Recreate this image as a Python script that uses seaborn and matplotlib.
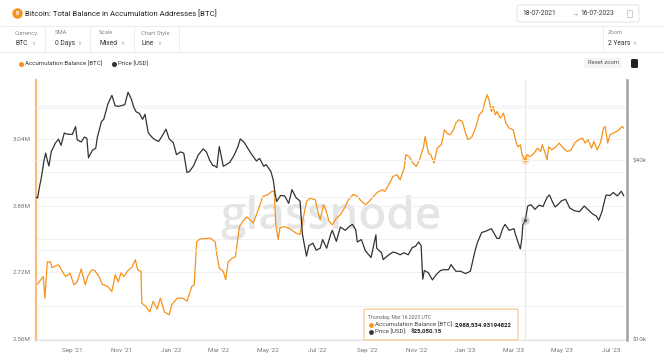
import numpy as np
import pandas as pd
import matplotlib
matplotlib.use("Agg")
import matplotlib.pyplot as plt
import matplotlib.dates as mdates
from matplotlib.patches import FancyBboxPatch, Rectangle
from matplotlib.lines import Line2D
from matplotlib.ticker import NullLocator
import seaborn as sns

start = pd.Timestamp("2021-07-18")

# accumulation balance, days since 18-07-2021 -> millions of BTC
acc_day = [2, 9, 11, 14, 18, 20, 24, 28, 35, 37,
           42, 47, 51, 56, 61, 64, 69, 73, 78, 82,
           89, 94, 98, 102, 105, 109, 113, 119, 123, 126,
           130, 131, 136, 141, 145, 150, 154, 159, 165, 168,
           175, 182, 187, 193, 196, 199, 203, 216, 222, 224,
           227, 232, 235, 238, 243, 247, 249, 252, 256, 261,
           265, 269, 273, 276, 281, 287, 292, 295, 297, 300,
           302, 307, 315, 322, 327, 331, 335, 339, 346, 349,
           352, 356, 359, 363, 367, 372, 377, 382, 387, 393,
           398, 404, 408, 413, 418, 423, 429, 432, 437, 442,
           447, 451, 456, 458, 462, 467, 471, 475, 480, 482,
           486, 489, 493, 497, 502, 506, 509, 513, 517, 520,
           524, 528, 532, 535, 540, 545, 549, 553, 556, 559,
           561, 564, 566, 569, 571, 575, 579, 582, 586, 591,
           595, 597, 600, 602, 606, 608, 612, 617, 621, 625,
           627, 630, 633, 635, 639, 644, 648, 653, 658, 663,
           667, 672, 677, 680, 684, 688, 691, 695, 699, 703,
           705, 708, 711, 715, 719, 722, 726, 728]
acc_btc_m = [2.692, 2.710, 2.658, 2.745, 2.745, 2.731, 2.735, 2.738, 2.714, 2.710,
             2.718, 2.690, 2.697, 2.728, 2.690, 2.710, 2.726, 2.724, 2.710, 2.691,
             2.686, 2.674, 2.714, 2.697, 2.718, 2.710, 2.722, 2.733, 2.750, 2.726,
             2.722, 2.646, 2.638, 2.625, 2.650, 2.632, 2.658, 2.625, 2.618, 2.642,
             2.658, 2.658, 2.651, 2.686, 2.690, 2.793, 2.800, 2.802, 2.793, 2.762,
             2.730, 2.722, 2.702, 2.745, 2.754, 2.757, 2.786, 2.830, 2.842, 2.853,
             2.846, 2.838, 2.858, 2.874, 2.902, 2.906, 2.914, 2.915, 2.834, 2.798,
             2.826, 2.830, 2.824, 2.814, 2.811, 2.850, 2.889, 2.898, 2.894, 2.866,
             2.846, 2.882, 2.870, 2.842, 2.834, 2.850, 2.858, 2.874, 2.894, 2.907,
             2.902, 2.889, 2.882, 2.891, 2.902, 2.912, 2.918, 2.914, 2.930, 2.950,
             2.954, 2.942, 2.970, 3.002, 2.998, 2.982, 2.974, 2.990, 3.021, 3.046,
             3.006, 3.002, 2.982, 3.018, 3.026, 3.062, 3.054, 3.050, 3.062, 3.078,
             3.086, 3.082, 3.054, 3.038, 3.045, 3.070, 3.098, 3.106, 3.130, 3.146,
             3.134, 3.106, 3.118, 3.098, 3.106, 3.090, 3.102, 3.078, 3.066, 3.062,
             3.030, 3.021, 3.026, 3.002, 2.9885, 3.002, 2.998, 3.006, 3.018, 3.010,
             3.026, 3.010, 2.990, 3.021, 3.014, 3.021, 3.030, 3.018, 3.010, 3.014,
             3.030, 3.038, 3.042, 3.030, 3.038, 3.018, 3.034, 3.014, 3.030, 3.066,
             3.070, 3.030, 3.050, 3.054, 3.058, 3.062, 3.070, 3.066]

# BTC price, days since 18-07-2021 -> thousands of USD
price_day = [0, 2, 4, 7, 10, 12, 14, 16, 19, 21,
             24, 28, 31, 35, 38, 42, 45, 49, 51, 56,
             60, 63, 65, 70, 74, 76, 81, 84, 89, 94,
             98, 102, 106, 110, 114, 118, 121, 124, 128, 132,
             135, 139, 144, 148, 152, 157, 161, 165, 170, 174,
             179, 183, 187, 190, 195, 201, 207, 211, 215, 219,
             221, 224, 227, 232, 237, 240, 245, 250, 253, 258,
             263, 266, 269, 273, 277, 282, 285, 291, 294, 296,
             298, 303, 308, 313, 317, 322, 327, 330, 335, 338,
             343, 347, 352, 355, 360, 365, 367, 372, 377, 383,
             388, 392, 396, 398, 403, 408, 415, 421, 422, 428,
             430, 436, 442, 446, 451, 456, 461, 466, 470, 474,
             477, 479, 481, 486, 491, 496, 501, 505, 511, 514,
             520, 526, 532, 538, 544, 547, 552, 558, 564, 571,
             574, 578, 581, 586, 592, 594, 599, 600, 602, 603,
             606, 609, 613, 618, 623, 628, 633, 636, 640, 643,
             647, 651, 656, 661, 667, 673, 679, 684, 689, 694,
             697, 701, 703, 706, 711, 715, 720, 725, 728]
price_usd_k = [30.0, 29.8, 32.1, 35.4, 40.0, 42.2, 39.9, 38.2, 42.8, 43.8,
               45.6, 47.0, 44.8, 49.3, 48.9, 48.8, 48.8, 51.8, 46.8, 46.0,
               47.8, 47.3, 40.7, 43.2, 43.8, 47.7, 53.8, 54.9, 61.7, 66.0,
               60.9, 60.6, 61.0, 61.4, 67.6, 64.2, 60.3, 58.1, 57.4, 54.8,
               57.0, 49.4, 47.6, 46.7, 46.2, 48.6, 50.8, 47.1, 45.8, 41.7,
               42.6, 42.2, 36.3, 36.6, 38.2, 41.6, 43.6, 42.6, 40.0, 38.3,
               38.3, 37.7, 44.4, 38.1, 38.8, 39.3, 41.3, 44.3, 47.1, 45.8,
               43.5, 42.2, 41.1, 39.7, 40.5, 38.1, 38.6, 36.6, 34.1, 31.0,
               29.0, 30.4, 30.3, 28.6, 31.8, 29.9, 29.1, 22.5, 19.0, 20.6,
               21.0, 19.9, 20.2, 21.6, 20.2, 22.5, 23.2, 21.3, 23.8, 23.2,
               23.9, 24.3, 23.3, 21.2, 21.6, 19.8, 18.8, 22.4, 20.2, 19.5,
               18.5, 19.1, 19.6, 19.5, 19.2, 19.5, 19.2, 20.3, 20.5, 21.2,
               20.6, 15.9, 17.0, 16.7, 15.8, 16.5, 17.0, 17.1, 17.1, 17.8,
               16.9, 16.9, 16.6, 16.9, 19.9, 21.2, 22.8, 23.1, 23.5, 21.8,
               21.8, 23.5, 24.3, 23.2, 23.5, 22.4, 20.4, 20.1, 22.1, 24.2,
               25.05, 28.0, 28.3, 27.3, 28.2, 27.9, 30.0, 30.5, 28.8, 27.8,
               28.4, 29.2, 29.5, 27.6, 27.0, 26.8, 28.0, 27.2, 26.4, 25.9,
               25.1, 26.8, 28.3, 30.5, 30.4, 31.1, 30.3, 31.4, 30.3]

left_ticks = [2.56e6, 2.72e6, 2.88e6, 3.04e6]
left_labels = ["2.56M", "2.72M", "2.88M", "3.04M"]
right_ticks = [1e4, 4e4]
right_labels = ["$10k", "$40k"]

acc = pd.DataFrame({"date": start + pd.to_timedelta(acc_day, unit="D"),
                    "balance": np.array(acc_btc_m) * 1e6})
price = pd.DataFrame({"date": start + pd.to_timedelta(price_day, unit="D"),
                      "price": np.array(price_usd_k) * 1e3})

sns.set_style("white")
plt.rcParams["font.family"] = ["Roboto", "DejaVu Sans"]

ORANGE = "#f7931a"
DARK = "#333333"
W, H = 665, 362
fig = plt.figure(figsize=(W / 100, H / 100), dpi=100)


def fx(x):
    return x / W


def fy(y):
    return 1 - y / H


ax = fig.add_axes([fx(36), fy(340), fx(627) - fx(36), fy(80) - fy(340)])
ax2 = ax.twinx()

# faint grid
for v in [2.56e6, 2.64e6, 2.72e6, 2.80e6, 2.88e6, 2.96e6, 3.04e6, 3.12e6]:
    ax.axhline(v, color="#f1f1f1", lw=0.7, zorder=0)
for v in [2e4, 3e4, 4e4, 6e4]:
    ax2.axhline(v, color="#f1f1f1", lw=0.7, zorder=0)

ax.text(0.5, 0.47, "glassnode", transform=ax.transAxes, ha="center", va="center",
        fontsize=33, color="#e5e5e5", family=["Open Sans", "DejaVu Sans"],
        fontweight="semibold", zorder=0.5)

hover = start + pd.Timedelta(days=606)
ax.axvline(hover, color="#e9e9e9", lw=0.8, zorder=0.6)

sns.lineplot(data=acc, x="date", y="balance", ax=ax, color=ORANGE, lw=0.9, zorder=2)
sns.lineplot(data=price, x="date", y="price", ax=ax2, color=DARK, lw=0.9, zorder=2)

hover_acc = acc.loc[acc["date"] == hover, "balance"].iloc[0]
hover_price = price.loc[price["date"] == hover, "price"].iloc[0]
ax.scatter([hover], [hover_acc], s=40, color=ORANGE, alpha=0.25, lw=0, zorder=3)
ax.scatter([hover], [hover_acc], s=6, color=ORANGE, lw=0, zorder=4)
ax2.scatter([hover], [hover_price], s=40, color="#999999", alpha=0.35, lw=0, zorder=3)
ax2.scatter([hover], [hover_price], s=6, color="#555555", lw=0, zorder=4)

ax.set_xlim(start, start + pd.Timedelta(days=732))
ax.set_ylim(2.5576e6, 3.1814e6)
ax2.set_yscale("log")
ax2.set_ylim(9923, 74330)

ax.set_yticks(left_ticks)
ax.set_yticklabels(left_labels)
ax2.set_yticks(right_ticks)
ax2.set_yticklabels(right_labels)
ax2.yaxis.set_minor_locator(NullLocator())
ax.xaxis.set_major_locator(mdates.MonthLocator(bymonth=[1, 3, 5, 7, 9, 11]))
ax.xaxis.set_major_formatter(mdates.DateFormatter("%b '%y"))
ax.set_xlabel("")
ax.set_ylabel("")
ax2.set_ylabel("")

ax.tick_params(axis="both", length=0, labelsize=4.6, colors="#777777")
ax.tick_params(axis="y", pad=4)
ax.tick_params(axis="x", pad=6)
ax2.tick_params(axis="y", length=0, labelsize=4.6, colors="#777777", pad=4)

for sp in ["top", "right"]:
    ax.spines[sp].set_visible(False)
for sp in ["top", "left", "bottom"]:
    ax2.spines[sp].set_visible(False)
ax.spines["left"].set_color("#f9bf7a")
ax.spines["left"].set_linewidth(1.6)
ax.spines["bottom"].set_color("#e4e4e4")
ax.spines["bottom"].set_linewidth(0.7)
ax2.spines["right"].set_color("#a3a3a3")
ax2.spines["right"].set_linewidth(1.8)

# header
fig.add_artist(Line2D([fx(17)], [fy(13)], marker="o", ms=6.5, color=ORANGE,
                      transform=fig.transFigure))
fig.text(fx(17), fy(13.3), "B", fontsize=3.6, color="white", ha="center", va="center",
         fontweight="bold")
fig.text(fx(25), fy(13), "Bitcoin: Total Balance in Accumulation Addresses [BTC]",
         fontsize=5.6, color="#222222", va="center")

fig.add_artist(FancyBboxPatch((fx(517), fy(22)), fx(639) - fx(517), fy(5) - fy(22),
                              boxstyle="round,pad=0,rounding_size=0.004",
                              transform=fig.transFigure, facecolor="white",
                              edgecolor="#e3e3e3", lw=0.7))
fig.text(fx(522), fy(13.5), "18-07-2021", fontsize=4.8, color="#333333", va="center")
fig.text(fx(573), fy(13.5), "→", fontsize=4.5, color="#bbbbbb", va="center")
fig.text(fx(580), fy(13.5), "16-07-2023", fontsize=4.8, color="#333333", va="center")
fig.add_artist(Rectangle((fx(627), fy(17)), fx(5) - fx(0), fy(0) - fy(7),
                         transform=fig.transFigure, facecolor="none",
                         edgecolor="#c8c8c8", lw=0.6))

for yy in [25.5, 51.5]:
    fig.add_artist(Line2D([0, 1], [fy(yy), fy(yy)], color="#ececec", lw=0.7,
                          transform=fig.transFigure))
for xx in [45, 90, 134, 179, 603]:
    fig.add_artist(Line2D([fx(xx), fx(xx)], [fy(25.5), fy(51.5)], color="#ececec",
                          lw=0.7, transform=fig.transFigure))

controls = [(15, "Currency", "BTC", 31), (55, "SMA", "0 Days", 77), (99, "Scale", "Mixed", 120),
            (141, "Chart Style", "Line", 157), (608, "Zoom", "2 Years", 632)]
for xx, lab, val, cx in controls:
    fig.text(fx(xx), fy(33), lab, fontsize=4.2, color="#8a8a8a", va="center")
    fig.text(fx(xx), fy(43.5), val, fontsize=4.9, color="#333333", va="center")
    fig.text(fx(cx), fy(43.5), "\u2228", fontsize=4.0, color="#aaaaaa", va="center")

# legend row
fig.add_artist(Line2D([fx(21)], [fy(64)], marker="o", ms=2.6, color=ORANGE,
                      transform=fig.transFigure))
fig.text(fx(25), fy(64), "Accumulation Balance [BTC]", fontsize=4.4, color="#333333",
         va="center")
fig.add_artist(Line2D([fx(114)], [fy(64)], marker="o", ms=2.6, color=DARK,
                      transform=fig.transFigure))
fig.text(fx(118), fy(64), "Price [USD]", fontsize=4.4, color="#333333", va="center")

fig.add_artist(FancyBboxPatch((fx(584), fy(68)), fx(622) - fx(584), fy(58) - fy(68),
                              boxstyle="round,pad=0,rounding_size=0.003",
                              transform=fig.transFigure, facecolor="#f4f4f4",
                              edgecolor="none"))
fig.text(fx(603), fy(63), "Reset zoom", fontsize=4.2, color="#555555", ha="center",
         va="center")
fig.add_artist(FancyBboxPatch((fx(631), fy(68)), fx(7) - fx(0), fy(0) - fy(9),
                              boxstyle="round,pad=0,rounding_size=0.003",
                              transform=fig.transFigure, facecolor="#222222",
                              edgecolor="none"))

# tooltip
fig.add_artist(FancyBboxPatch((fx(364), fy(340)), fx(518) - fx(364), fy(309) - fy(340),
                              boxstyle="round,pad=0,rounding_size=0.004",
                              transform=fig.transFigure, facecolor="white",
                              edgecolor="#f7c98e", lw=0.9, zorder=10))
fig.text(fx(368), fy(317), "Thursday, Mar 16 2023 UTC", fontsize=3.7, color="#666666",
         va="center", zorder=11)
fig.add_artist(Line2D([fx(371)], [fy(324.5)], marker="o", ms=2.4, color=ORANGE,
                      transform=fig.transFigure, zorder=11))
fig.text(fx(375), fy(324.5), "Accumulation Balance [BTC]:", fontsize=4.4, color="#444444",
         va="center", zorder=11)
fig.text(fx(455), fy(324.5), "2,988,534.93194822", fontsize=4.4, color="#222222",
         fontweight="bold", va="center", zorder=11)
fig.add_artist(Line2D([fx(371)], [fy(332)], marker="o", ms=2.4, color=DARK,
                      transform=fig.transFigure, zorder=11))
fig.text(fx(375), fy(332), "Price [USD]:", fontsize=4.4, color="#444444", va="center",
         zorder=11)
fig.text(fx(411), fy(332), "$25,050.15", fontsize=4.4, color="#222222",
         fontweight="bold", va="center", zorder=11)

fig.savefig("out.png", dpi=100)
